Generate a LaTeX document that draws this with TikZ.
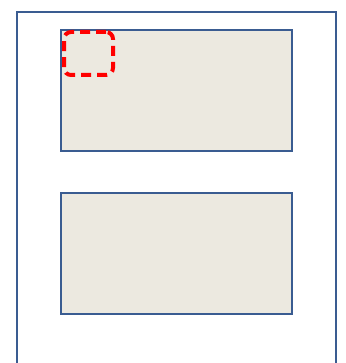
\documentclass[tikz,border=0pt]{standalone}
\usepackage{tikz}
\usetikzlibrary{positioning}
\definecolor{frameblue}{RGB}{58,92,145}
\definecolor{panelfill}{RGB}{236,233,224}
\definecolor{markred}{RGB}{255,0,0}

\begin{document}
\begin{tikzpicture}[
  x=1pt, y=-1pt,
  outerframe/.style={rectangle, draw=frameblue, line width=1.9pt,
                     minimum width=319pt, minimum height=370pt, anchor=north west},
  panel/.style={rectangle, draw=frameblue, line width=1.6pt, fill=panelfill,
                minimum width=231pt, minimum height=121pt, anchor=north west},
  marker/.style={rectangle, rounded corners=7pt, draw=markred, line width=4pt,
                 dash pattern=on 10pt off 6pt,
                 minimum width=49pt, minimum height=43pt, anchor=north west}
]
  \useasboundingbox (0,0) rectangle (345,363);
  \node[outerframe] (frame) at (16,11) {};
  \node[panel] (top) at (60,29) {};
  \node[panel] (bottom) at (60,192) {};
  \node[marker] (mark) at (62,30) {};
\end{tikzpicture}
\end{document}
